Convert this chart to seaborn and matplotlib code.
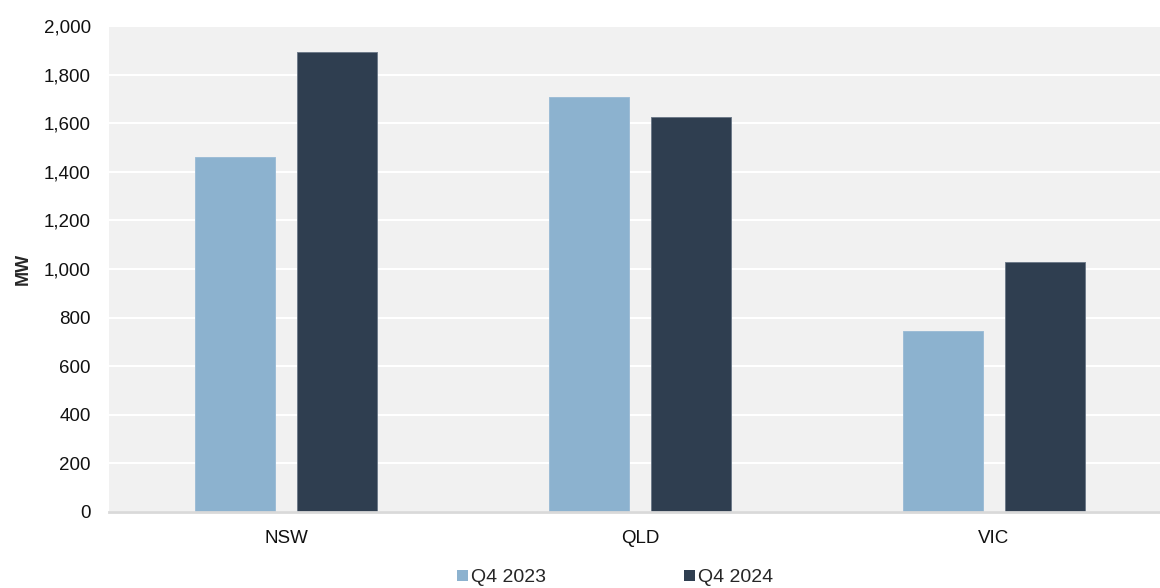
import matplotlib
matplotlib.use("Agg")
import matplotlib.pyplot as plt
from matplotlib.patches import Patch
from matplotlib.ticker import FuncFormatter
import seaborn as sns
import pandas as pd

# Installed capacity by state (MW)
states = ["NSW", "QLD", "VIC"]
q4_2023 = [1461, 1708, 745]
q4_2024 = [1893, 1625, 1029]
periods = ["Q4 2023", "Q4 2024"]
colors = ["#8CB2CF", "#2F3E50"]
edge_colors = ["#9DBDD6", "#6E7B8A"]

df = pd.DataFrame({
    "state": states * 2,
    "period": [periods[0]] * 3 + [periods[1]] * 3,
    "mw": q4_2023 + q4_2024,
})

sns.set_theme(style="white")
plt.rcParams["font.family"] = ["Liberation Sans", "DejaVu Sans"]

fig = plt.figure(figsize=(11.6, 5.88), dpi=100)
ax = fig.add_axes([109 / 1160, 76 / 588, 1062 / 1160, 486 / 588])
ax.set_facecolor("#F1F1F1")

sns.barplot(data=df, x="state", y="mw", hue="period", palette=colors,
            width=0.572, gap=0.21, ax=ax, legend=False, saturation=1)

for i, cont in enumerate(ax.containers):
    for bar in cont:
        bar.set_edgecolor(edge_colors[i])
        bar.set_linewidth(0.7)

ax.set_ylim(0, 2000)
ax.set_yticks(range(0, 2001, 200))
ax.yaxis.set_major_formatter(FuncFormatter(lambda v, p: f"{int(v):,}"))
ax.grid(axis="y", color="white", linewidth=1.5)
ax.set_axisbelow(True)
for s in ["top", "right", "left"]:
    ax.spines[s].set_visible(False)
ax.spines["bottom"].set_color("#D9D9D9")
ax.spines["bottom"].set_linewidth(2)

ax.tick_params(axis="both", length=0, labelsize=13.5, colors="#111111")
ax.tick_params(axis="x", pad=13)
ax.tick_params(axis="y", pad=13)
ax.set_xlabel("")
ax.set_ylabel("MW", fontsize=13, fontweight="bold", labelpad=9)

handles = [Patch(facecolor=c, edgecolor="none") for c in colors]
fig.legend(handles, periods, loc="center", bbox_to_anchor=(615 / 1160, 10 / 588),
           ncol=2, frameon=False, fontsize=14, handlelength=0.55, handleheight=0.55,
           handletextpad=0.15, columnspacing=7.1, borderaxespad=0)

fig.savefig("out.png", dpi=100)
